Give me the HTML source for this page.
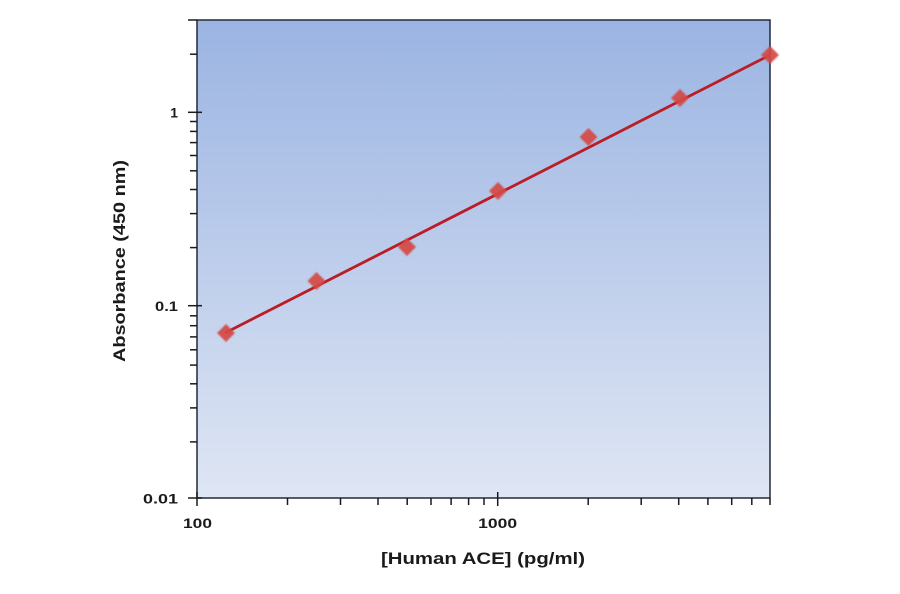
<!DOCTYPE html>
<html><head><meta charset="utf-8"><style>
html,body{margin:0;padding:0;background:#fff;}
svg{display:block;}
text{font-family:"Liberation Sans",sans-serif;font-weight:bold;fill:#1a1a1a;}
</style></head><body>
<svg width="900" height="594" viewBox="0 0 900 594" xmlns="http://www.w3.org/2000/svg">
<defs>
<linearGradient id="bg" x1="0" y1="0" x2="0" y2="1">
<stop offset="0" stop-color="#9bb4e2"/>
<stop offset="1" stop-color="#dfe6f4"/>
</linearGradient>
<filter id="blur" x="-50%" y="-50%" width="200%" height="200%"><feGaussianBlur stdDeviation="0.9"/></filter>
</defs>
<rect x="197" y="20" width="573" height="478" fill="url(#bg)" stroke="#1f2a3a" stroke-width="1.5"/>
<g stroke="#1a1a1a" stroke-width="1.5">
<line x1="188" y1="112.3" x2="202" y2="112.3"/>
<line x1="188" y1="305.7" x2="202" y2="305.7"/>
<line x1="188" y1="498" x2="202" y2="498"/>
<line x1="188" y1="20" x2="197" y2="20"/>
<line x1="190" y1="54.2" x2="197" y2="54.2"/>
<line x1="190" y1="247.6" x2="197" y2="247.6"/>
<line x1="190" y1="213.6" x2="197" y2="213.6"/>
<line x1="190" y1="189.5" x2="197" y2="189.5"/>
<line x1="190" y1="170.8" x2="197" y2="170.8"/>
<line x1="190" y1="155.5" x2="197" y2="155.5"/>
<line x1="190" y1="142.6" x2="197" y2="142.6"/>
<line x1="190" y1="131.4" x2="197" y2="131.4"/>
<line x1="190" y1="121.5" x2="197" y2="121.5"/>
<line x1="190" y1="441.9" x2="197" y2="441.9"/>
<line x1="190" y1="407.9" x2="197" y2="407.9"/>
<line x1="190" y1="383.8" x2="197" y2="383.8"/>
<line x1="190" y1="365.1" x2="197" y2="365.1"/>
<line x1="190" y1="349.8" x2="197" y2="349.8"/>
<line x1="190" y1="336.9" x2="197" y2="336.9"/>
<line x1="190" y1="325.7" x2="197" y2="325.7"/>
<line x1="190" y1="315.8" x2="197" y2="315.8"/>
<line x1="197" y1="492" x2="197" y2="506"/>
<line x1="497.7" y1="492" x2="497.7" y2="506"/>
<line x1="770" y1="498" x2="770" y2="505"/>
<line x1="287.5" y1="498" x2="287.5" y2="505"/>
<line x1="340.5" y1="498" x2="340.5" y2="505"/>
<line x1="378" y1="498" x2="378" y2="505"/>
<line x1="407.2" y1="498" x2="407.2" y2="505"/>
<line x1="431" y1="498" x2="431" y2="505"/>
<line x1="451.1" y1="498" x2="451.1" y2="505"/>
<line x1="468.6" y1="498" x2="468.6" y2="505"/>
<line x1="484" y1="498" x2="484" y2="505"/>
<line x1="588.2" y1="498" x2="588.2" y2="505"/>
<line x1="641.2" y1="498" x2="641.2" y2="505"/>
<line x1="678.7" y1="498" x2="678.7" y2="505"/>
<line x1="707.9" y1="498" x2="707.9" y2="505"/>
<line x1="731.7" y1="498" x2="731.7" y2="505"/>
<line x1="751.8" y1="498" x2="751.8" y2="505"/>
</g>
<line x1="225" y1="333" x2="770" y2="55" stroke="#bb1d26" stroke-width="2.8"/>
<g fill="#d44a45" opacity="0.92" filter="url(#blur)">
<path d="M226 324 L235 333 L226 342 L217 333Z"/>
<path d="M316.5 272 L325.5 281 L316.5 290 L307.5 281Z"/>
<path d="M407 238 L416 247 L407 256 L398 247Z"/>
<path d="M498 182 L507 191 L498 200 L489 191Z"/>
<path d="M588.5 128 L597.5 137 L588.5 146 L579.5 137Z"/>
<path d="M680 89 L689 98 L680 107 L671 98Z"/>
<path d="M770 46 L779 55 L770 64 L761 55Z"/>
</g>
<g font-size="14">
<text x="178" y="117.5" text-anchor="end">1</text>
<text x="178" y="311" text-anchor="end" textLength="23" lengthAdjust="spacingAndGlyphs">0.1</text>
<text x="178" y="503.5" text-anchor="end" textLength="35" lengthAdjust="spacingAndGlyphs">0.01</text>
<text x="197.5" y="528" text-anchor="middle" textLength="29" lengthAdjust="spacingAndGlyphs">100</text>
<text x="497.7" y="528" text-anchor="middle" textLength="39" lengthAdjust="spacingAndGlyphs">1000</text>
</g>
<text x="483" y="564" font-size="17" text-anchor="middle" textLength="204" lengthAdjust="spacingAndGlyphs">[Human ACE] (pg/ml)</text>
<text transform="translate(125,261) rotate(-90)" font-size="17" text-anchor="middle" textLength="202" lengthAdjust="spacingAndGlyphs">Absorbance (450 nm)</text>
</svg>
</body></html>
